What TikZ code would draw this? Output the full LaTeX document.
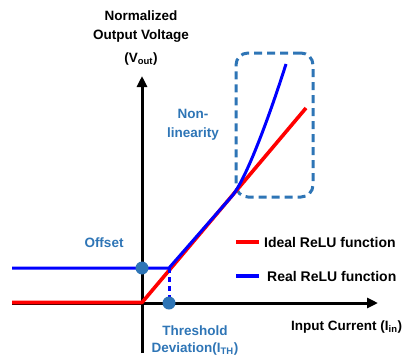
\documentclass[tikz,border=0pt]{standalone}
\usepackage{fontspec}
\setmainfont{Liberation Sans}
\usetikzlibrary{arrows.meta}
\definecolor{steel}{RGB}{46,117,182}
\definecolor{relured}{RGB}{255,0,0}
\definecolor{relublue}{RGB}{0,0,255}
\tikzset{
  axis/.style={line width=3pt,-{Triangle[length=11pt,width=10pt]}},
  ideal/.style={relured,line width=3.6pt},
  real/.style={relublue,line width=3pt},
  marker/.style={circle,fill=steel,inner sep=0pt,minimum size=13pt},
  lbl/.style={font=\bfseries\fontsize{13.5}{15}\selectfont,inner sep=0pt},
  note/.style={lbl,text=steel},
  legtext/.style={font=\bfseries\fontsize{14}{16}\selectfont,inner sep=0pt,anchor=west},
}
\begin{document}
\begin{tikzpicture}[x=1pt,y=-1pt]
\useasboundingbox (0,0) rectangle (406,361);

% axes
\coordinate (ybot) at (142,353);
\coordinate (ytop) at (142,76);
\coordinate (xleft) at (12,303);
\coordinate (xright) at (378,303);
\coordinate (origin) at (142,303);
\draw[axis] (ybot) -- (ytop);
\draw[axis] (xleft) -- (xright);

% non-linearity region
\node[draw=steel,line width=3pt,dash pattern=on 8pt off 5pt,rounded corners=12pt,
      minimum width=77pt,minimum height=144pt,inner sep=0pt] (box) at (274.5,125) {};

% ideal ReLU
\coordinate (redleft) at (12,302.5);
\coordinate (redcorner) at (142,302.5);
\coordinate (redtop) at (306,108);
\draw[ideal,line join=round] (redleft) -- (redcorner) -- (redtop);

% real ReLU
\coordinate (blueleft) at (12,268);
\coordinate (knee) at (169,268);
\coordinate (split) at (232,196);
\coordinate (bluetop) at (286,64);
\draw[real,line join=round] (blueleft) -- (knee) -- (split)
  .. controls (248,177) and (274,102) .. (bluetop);

% offset and threshold markers
\coordinate (thx) at (169,303);
\draw[relublue,line width=3pt,dash pattern=on 5pt off 4pt] (knee) -- (thx);
\node[marker] (offdot) at (142,268) {};
\node[marker] (thdot) at (thx) {};

% axis titles
\node[lbl] (t1) at (141,16) {Normalized};
\node[lbl] (t2) at (141,36) {Output Voltage};
\node[lbl] (t3) at (141,59) {(V\textsubscript{out})};
\node[lbl,anchor=west] (xl) at (291,327) {Input Current (I\textsubscript{in})};

% annotations
\node[note] (n1) at (193,114) {Non-};
\node[note] (n2) at (193,134) {linearity};
\node[note] (off) at (104,243) {Offset};
\node[note] (th1) at (195,331) {Threshold};
\node[note] (th2) at (195,349) {Deviation(I\textsubscript{TH})};

% legend
\coordinate (la) at (236,242);
\coordinate (lb) at (259,242);
\coordinate (lc) at (236,276);
\coordinate (ld) at (259,276);
\draw[ideal,line width=3.5pt] (la) -- (lb);
\draw[real,line width=3.5pt] (lc) -- (ld);
\node[legtext] (leg1) at (264,242) {Ideal ReLU function};
\node[legtext] (leg2) at (267,276) {Real ReLU function};
\end{tikzpicture}
\end{document}
